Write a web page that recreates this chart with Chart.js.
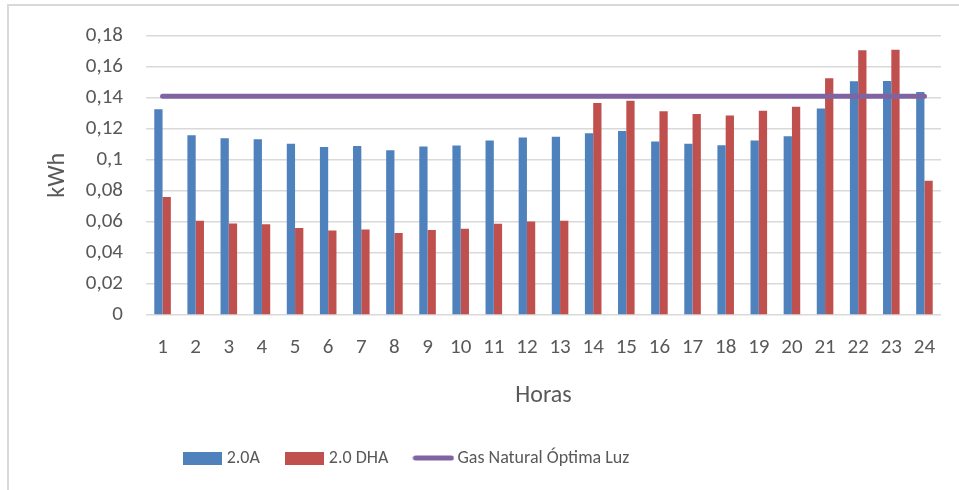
<!DOCTYPE html>
<html>
<head>
<meta charset="utf-8">
<script src="https://cdn.jsdelivr.net/npm/chart.js@4"></script>
<style>
  body { margin: 0; background: #fff; }
  #frame {
    position: absolute; left: 7px; top: 4px; width: 960px; height: 490px;
    border-left: 2px solid #d9d9d9; border-top: 2px solid #d9d9d9;
  }
  #consumo { position: absolute; left: 0; top: 0; }
</style>
</head>
<body>
<div id="frame"></div>
<canvas id="consumo" width="959" height="490"></canvas>
<script>
const horas = ['1','2','3','4','5','6','7','8','9','10','11','12','13','14','15','16','17','18','19','20','21','22','23','24'];

const tarifa20A = [0.1325, 0.1158, 0.1139, 0.1133, 0.1103, 0.1083, 0.1088, 0.1062, 0.1085, 0.1092, 0.1124, 0.1143,
                   0.1149, 0.1171, 0.1186, 0.1117, 0.1103, 0.1094, 0.1124, 0.1152, 0.1331, 0.1506, 0.1508, 0.1436];

const tarifa20DHA = [0.0761, 0.0607, 0.0590, 0.0585, 0.0560, 0.0545, 0.0551, 0.0528, 0.0547, 0.0556, 0.0588, 0.0603,
                     0.0607, 0.1365, 0.1380, 0.1312, 0.1295, 0.1286, 0.1316, 0.1342, 0.1526, 0.1705, 0.1709, 0.0865];

const optimaLuz = [0.141, 0.141, 0.141, 0.141, 0.141, 0.141, 0.141, 0.141, 0.141, 0.141, 0.141, 0.141,
                   0.141, 0.141, 0.141, 0.141, 0.141, 0.141, 0.141, 0.141, 0.141, 0.141, 0.141, 0.141];

const azul = '#4f81bd';
const rojo = '#c0504d';
const morado = '#8064a2';
const gris = '#595959';
const fuente = 'Carlito, Lato, sans-serif';

// little legend symbols drawn once
function simbolo(w, h, color, linea) {
    const c = document.createElement('canvas');
    c.width = w; c.height = h;
    const g = c.getContext('2d');
    if (linea) {
        g.strokeStyle = color;
        g.lineWidth = h - 1;
        g.lineCap = 'round';
        g.beginPath();
        g.moveTo(h / 2, h / 2);
        g.lineTo(w - h / 2, h / 2);
        g.stroke();
    } else {
        g.fillStyle = color;
        g.fillRect(0, 0, w, h);
    }
    return c;
}
const simbolos = [simbolo(39, 13, azul), simbolo(39, 13, rojo), simbolo(42, 6, morado, true)];

// excel puts the legend a bit left of centre
const moverLeyenda = {
    id: 'moverLeyenda',
    afterLayout(chart) {
        if (chart.legend) chart.legend.right -= 134;
    }
};

new Chart(document.getElementById('consumo'), {
    type: 'bar',
    data: {
        labels: horas,
        datasets: [
            { label: '2.0A', data: tarifa20A, backgroundColor: azul, categoryPercentage: 0.5, barPercentage: 1 },
            { label: '2.0 DHA', data: tarifa20DHA, backgroundColor: rojo, categoryPercentage: 0.5, barPercentage: 1 },
            {
                type: 'line', label: 'Gas Natural Óptima Luz', data: optimaLuz, order: -1,
                borderColor: morado, backgroundColor: morado, borderWidth: 5,
                borderCapStyle: 'round', pointRadius: 0
            }
        ]
    },
    plugins: [moverLeyenda],
    options: {
        responsive: false,
        animation: false,
        layout: { padding: { left: 10, right: 18, top: 34, bottom: 13 } },
        plugins: {
            tooltip: { enabled: false },
            legend: {
                position: 'bottom',
                labels: {
                    usePointStyle: true,
                    pointStyleWidth: 30,
                    padding: 30,
                    color: gris,
                    font: { family: fuente, size: 18 },
                    sort: (a, b) => a.datasetIndex - b.datasetIndex,
                    generateLabels: function (chart) {
                        const items = Chart.defaults.plugins.legend.labels.generateLabels(chart);
                        items.forEach(it => { it.pointStyle = simbolos[it.datasetIndex]; });
                        return items;
                    }
                }
            }
        },
        scales: {
            x: {
                grid: { display: false },
                border: { display: false },
                ticks: { color: gris, padding: 12, font: { family: fuente, size: 21 }, maxRotation: 0 },
                title: { display: true, text: 'Horas', color: gris, font: { family: fuente, size: 24 }, padding: { top: 0, bottom: 9 } },
                afterFit: s => { s.height = 104; }
            },
            y: {
                min: 0,
                max: 0.18,
                border: { display: false },
                grid: { color: '#d9d9d9', lineWidth: 1.5, drawTicks: false },
                ticks: {
                    stepSize: 0.02,
                    padding: 23,
                    color: gris,
                    font: { family: fuente, size: 21 },
                    callback: v => String(Math.round(v * 100) / 100).replace('.', ',')
                },
                title: { display: true, text: 'kWh', color: gris, font: { family: fuente, size: 24 }, padding: { top: 34, bottom: 0 } },
                afterFit: s => { s.width = 136; }
            }
        }
    }
});
</script>
</body>
</html>
